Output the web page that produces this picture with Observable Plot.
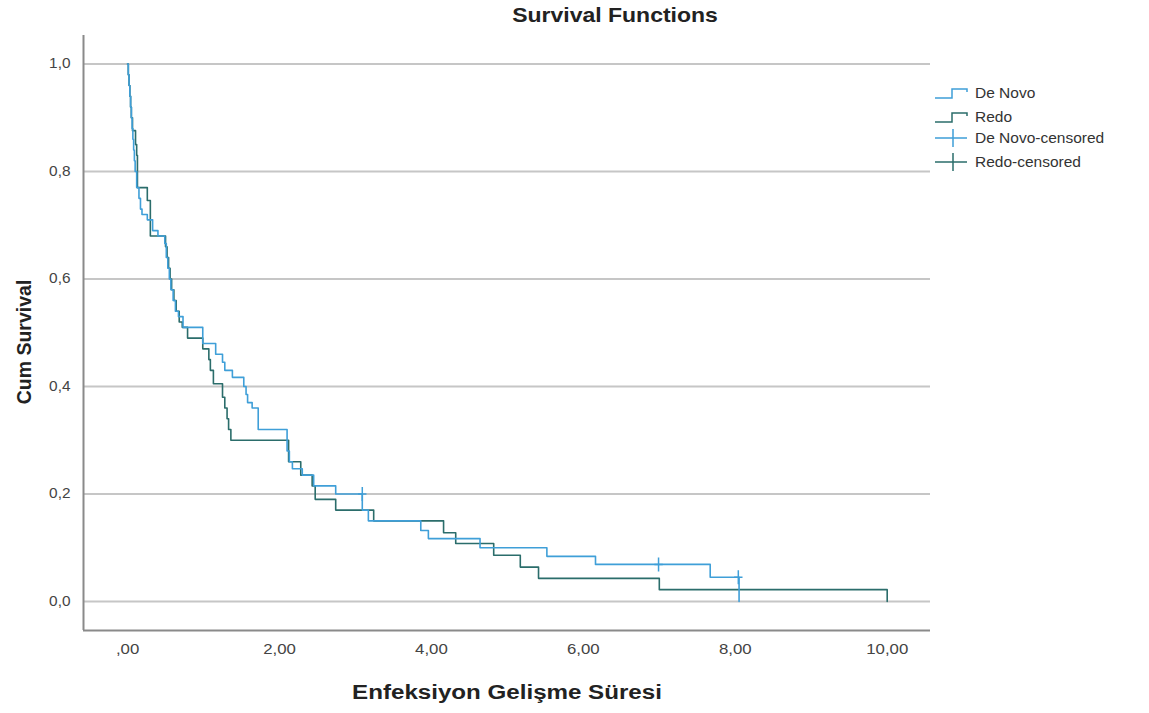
<!DOCTYPE html>
<html>
<head>
<meta charset="utf-8">
<script src="https://cdn.jsdelivr.net/npm/d3@7"></script>
<script src="https://cdn.jsdelivr.net/npm/@observablehq/plot@0.6"></script>
<style>
  html, body { margin: 0; padding: 0; background: #fff; }
  #chart { width: 1149px; height: 713px; position: relative; }
</style>
</head>
<body>
<div id="chart"></div>
<script>
// ---- Data ----
const deNovoTime = [0, 0.01, 0.02, 0.03, 0.04, 0.05, 0.06, 0.07, 0.08, 0.09,
  0.10, 0.12, 0.15, 0.17, 0.19, 0.26, 0.33, 0.40, 0.49, 0.51,
  0.53, 0.55, 0.57, 0.60, 0.63, 0.67, 0.73, 0.99, 1.16, 1.25,
  1.28, 1.38, 1.53, 1.56, 1.58, 1.64, 1.72, 2.10, 2.13, 2.17,
  2.30, 2.45, 2.74, 3.09, 3.17, 3.86, 3.96, 4.64, 5.52, 6.16,
  7.67, 8.05];
const deNovoSurv = [1.0, 0.98, 0.96, 0.94, 0.92, 0.90, 0.88, 0.86, 0.84, 0.82,
  0.80, 0.77, 0.75, 0.73, 0.72, 0.71, 0.69, 0.68, 0.666, 0.64,
  0.62, 0.60, 0.58, 0.56, 0.54, 0.53, 0.51, 0.48, 0.46, 0.445,
  0.43, 0.417, 0.40, 0.385, 0.37, 0.36, 0.32, 0.28, 0.26, 0.247,
  0.235, 0.215, 0.20, 0.17, 0.15, 0.132, 0.117, 0.10, 0.084, 0.069,
  0.045, 0];

const redoTime = [0, 0.01, 0.02, 0.03, 0.04, 0.05, 0.065, 0.105, 0.12, 0.13,
  0.26, 0.30, 0.50, 0.52, 0.54, 0.56, 0.58, 0.61, 0.64, 0.68,
  0.72, 0.79, 0.99, 1.07, 1.09, 1.13, 1.25, 1.28, 1.31, 1.33,
  1.36, 2.12, 2.28, 2.43, 2.47, 2.74, 3.24, 4.16, 4.32, 4.82,
  5.17, 5.41, 7.00, 10.0];
const redoSurv = [1.0, 0.98, 0.96, 0.94, 0.92, 0.90, 0.876, 0.85, 0.83, 0.77,
  0.746, 0.68, 0.66, 0.64, 0.62, 0.60, 0.58, 0.56, 0.54, 0.52,
  0.51, 0.49, 0.47, 0.45, 0.43, 0.405, 0.38, 0.36, 0.34, 0.32,
  0.30, 0.26, 0.235, 0.215, 0.19, 0.17, 0.15, 0.128, 0.108, 0.086,
  0.064, 0.043, 0.022, 0];

const deNovoCensorTime = [3.09, 6.99, 8.04];
const deNovoCensorSurv = [0.20, 0.069, 0.045];
const redoCensorTime = [];
const redoCensorSurv = [];

const xTicks = [0, 2, 4, 6, 8, 10];
const yTicks = [0, 0.2, 0.4, 0.6, 0.8, 1.0];
const seriesNames = ["De Novo", "Redo", "De Novo-censored", "Redo-censored"];

const chartTitle = "Survival Functions";
const xLabel = "Enfeksiyon Gelişme Süresi";
const yLabel = "Cum Survival";

// ---- Styles ----
const deNovoColor = "#3f9fd8";
const redoColor = "#2b6d6b";
const FONT = "'Liberation Sans', Arial, Helvetica, sans-serif";
const xDomain = [-0.58, 10.57];
const yDomain = [-0.054, 1.053];

const toRows = (ts, ss) => ts.map((t, i) => ({t, s: ss[i]}));
const deNovo = toRows(deNovoTime, deNovoSurv);
const redo = toRows(redoTime, redoSurv);
const deNovoCens = toRows(deNovoCensorTime, deNovoCensorSurv);
const redoCens = toRows(redoCensorTime, redoCensorSurv);

const plusSymbol = {
  draw(ctx, size) {
    const r = Math.sqrt(size / Math.PI);
    ctx.moveTo(-r * 0.6, 0); ctx.lineTo(r * 0.6, 0);
    ctx.moveTo(0, -r); ctx.lineTo(0, r);
  }
};

const fmtX = d => (d === 0 ? ",00" : d.toFixed(2).replace(".", ","));
const fmtY = d => d.toFixed(1).replace(".", ",");

const svg = Plot.plot({
  width: 1149,
  height: 713,
  marginLeft: 83,
  marginRight: 219,
  marginTop: 35,
  marginBottom: 83,
  style: {fontFamily: FONT, fontSize: "14px", color: "#444", background: "#fff", overflow: "visible"},
  x: {domain: xDomain, ticks: xTicks, tickFormat: fmtX, tickSize: 0, tickPadding: 14, label: null},
  y: {domain: yDomain, ticks: yTicks, tickFormat: fmtY, tickSize: 0, tickPadding: 13, label: null},
  marks: [
    Plot.ruleY(yTicks, {stroke: "#c6c6c6", strokeWidth: 1.8}),
    Plot.ruleX([xDomain[0]], {stroke: "#8a8a8a", strokeWidth: 2}),
    Plot.ruleY([yDomain[0]], {stroke: "#8a8a8a", strokeWidth: 2}),
    Plot.line(redo, {x: "t", y: "s", curve: "step-after", stroke: redoColor, strokeWidth: 1.6}),
    Plot.line(deNovo, {x: "t", y: "s", curve: "step-after", stroke: deNovoColor, strokeWidth: 1.6}),
    Plot.dot(redoCens, {x: "t", y: "s", symbol: plusSymbol, r: 7, stroke: redoColor, fill: "none", strokeWidth: 1.5}),
    Plot.dot(deNovoCens, {x: "t", y: "s", symbol: plusSymbol, r: 7, stroke: deNovoColor, fill: "none", strokeWidth: 1.5})
  ]
});

document.getElementById("chart").appendChild(svg);

// widen tick labels slightly to match the reference's stretched text
svg.querySelectorAll('g[aria-label="x-axis tick label"] text').forEach(t => {
  const tr = t.getAttribute("transform");
  if (tr) t.setAttribute("transform", tr + " scale(1.2,1)");
});
svg.querySelectorAll('g[aria-label="y-axis tick label"] text').forEach(t => {
  const tr = t.getAttribute("transform");
  if (tr) t.setAttribute("transform", tr + " scale(1.1,1)");
});

const s = d3.select(svg);

// Title
s.append("text")
  .attr("transform", "translate(615,22) scale(1.15,1)")
  .attr("text-anchor", "middle")
  .attr("font-family", FONT).attr("font-weight", "bold").attr("font-size", 20)
  .attr("fill", "#222")
  .text(chartTitle);

// X axis label
s.append("text")
  .attr("transform", "translate(507,699) scale(1.15,1)")
  .attr("text-anchor", "middle")
  .attr("font-family", FONT).attr("font-weight", "bold").attr("font-size", 21)
  .attr("fill", "#222")
  .text(xLabel);

// Y axis label
s.append("text")
  .attr("transform", "translate(31,342) rotate(-90)")
  .attr("text-anchor", "middle")
  .attr("font-family", FONT).attr("font-weight", "bold").attr("font-size", 19.5)
  .attr("fill", "#222")
  .text(yLabel);

// Legend
const leg = s.append("g")
  .attr("font-family", FONT).attr("font-size", 15.5).attr("fill", "#333")
  .attr("text-anchor", "start");
const legendY = [93, 117, 138, 162];
const legendColors = [deNovoColor, redoColor, deNovoColor, redoColor];
seriesNames.forEach((name, i) => {
  const y = legendY[i];
  if (i < 2) {
    leg.append("path")
      .attr("d", `M935,${y + 5} H952 V${y - 4} H967 V${y - 1}`)
      .attr("fill", "none").attr("stroke", legendColors[i]).attr("stroke-width", 1.5);
  } else {
    leg.append("path")
      .attr("d", `M935,${y} H967 M953,${y - 9} V${y + 9}`)
      .attr("fill", "none").attr("stroke", legendColors[i]).attr("stroke-width", 1.5);
  }
  leg.append("text")
    .attr("x", 975).attr("y", y).attr("dy", "0.35em")
    .attr("text-anchor", "start")
    .text(name);
});
</script>
</body>
</html>
